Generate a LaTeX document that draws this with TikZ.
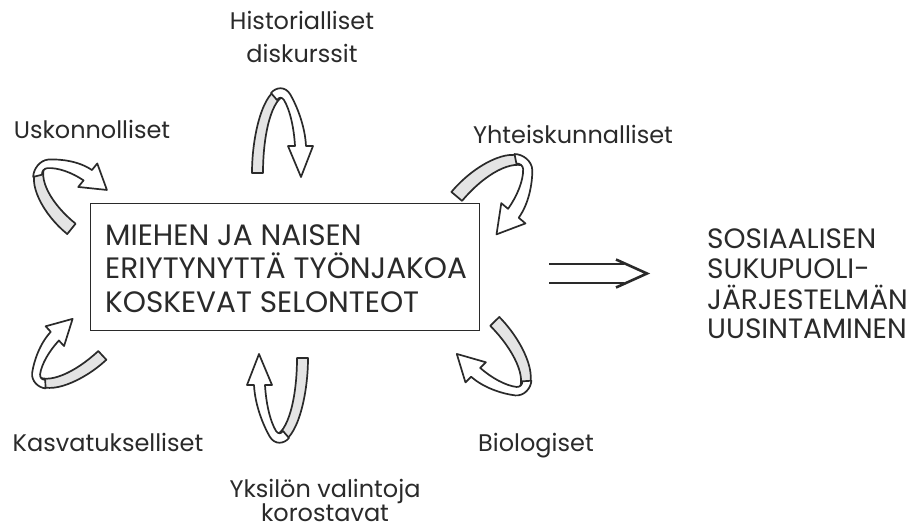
\documentclass[tikz,border=0pt]{standalone}
\usepackage{fontspec}
\setmainfont{Poppins}
\usetikzlibrary{calc}
\definecolor{ink}{HTML}{2A2A2A}
\definecolor{ribbon}{HTML}{E4E4E4}
\begin{document}
\begin{tikzpicture}[x=1pt,y=-1pt,
  lbl/.style={font=\fontsize{24}{28}\selectfont, text=ink, inner sep=0pt, anchor=base},
  boxtxt/.style={font=\fontsize{29.5}{34}\selectfont, text=ink, inner sep=0pt, anchor=base west},
  restxt/.style={font=\fontsize{28}{32}\selectfont, text=ink, inner sep=0pt, anchor=base west},
  edge/.style={draw=ink, line width=1.7pt, line join=round},
  twist/.pic={
    \path[edge, fill=ribbon] (-28,85) .. controls (-28,45) and (-16,2) .. (0,1) -- (6,7)
      .. controls (-8,10) and (-17,45) .. (-17,85) -- cycle;
    \path[edge, fill=white] (-9,5) .. controls (-4,-1) and (5,-2) .. (10,6)
      .. controls (17,18) and (25,38) .. (26,58) -- (33,58) -- (21,89) -- (8,58) -- (15,58)
      .. controls (14,40) and (10,22) .. (4,12) .. controls (2,9) and (-1,9) .. (-3,12) -- cycle;
  }]
\fill[white] (0,0) rectangle (924,528);
\useasboundingbox (0,0) rectangle (924,528);

% central box
\node[draw=ink, line width=1.1pt, minimum width=389pt, minimum height=127pt,
      anchor=north west, inner sep=0pt] (box) at (90,203) {};
\node[boxtxt] (b1) at (105,245) {MIEHEN JA NAISEN};
\node[boxtxt] (b2) at (105,278) {ERIYTYNYTTÄ TYÖNJAKOA};
\node[boxtxt] (b3) at (105,312) {KOSKEVAT SELONTEOT};

% result text
\node[restxt] (r1) at (707,248) {SOSIAALISEN};
\node[restxt] (r2) at (707,278) {SUKUPUOLI-};
\node[restxt] (r3) at (707,309) {JÄRJESTELMÄN};
\node[restxt] (r4) at (707,338) {UUSINTAMINEN};

% labels
\node[lbl] (hist1) at (302,29) {Historialliset};
\node[lbl] (hist2) at (302,62) {diskurssit};
\node[lbl] (usk) at (92,138) {Uskonnolliset};
\node[lbl] (yht) at (573,143) {Yhteiskunnalliset};
\node[lbl] (kas) at (108,451) {Kasvatukselliset};
\node[lbl] (bio) at (536,451) {Biologiset};
\node[lbl] (yks1) at (325,497) {Yksilön valintoja};
\node[lbl] (yks2) at (325,521) {korostavat};

% twisted arrows
\pic at (280,88) {twist};
\pic[rotate=180] at (280,443) {twist};
\pic[rotate=51, xscale=1.55, scale=0.78] at (37,166) {twist};
\pic[rotate=-40, xscale=1.45, scale=0.87] at (526,158) {twist};
\pic[rotate=133, xscale=1.35, scale=0.8] at (36,384) {twist};
\pic[rotate=-135.5, xscale=1.35, scale=0.85] at (527,391) {twist};

% implication arrow
\coordinate (impS) at (549,273.5);
\coordinate (impE) at (647,273.5);
\draw[ink, line width=2.6pt] ($(impS)+(0,-9.5)$) -- ($(impE)+(-23,-9.5)$);
\draw[ink, line width=2.6pt] ($(impS)+(0,9.5)$) -- ($(impE)+(-23,9.5)$);
\draw[ink, line width=2.6pt, line join=miter] ($(impE)+(-31,-14)$) -- (impE) -- ($(impE)+(-31,14)$);
\end{tikzpicture}
\end{document}
